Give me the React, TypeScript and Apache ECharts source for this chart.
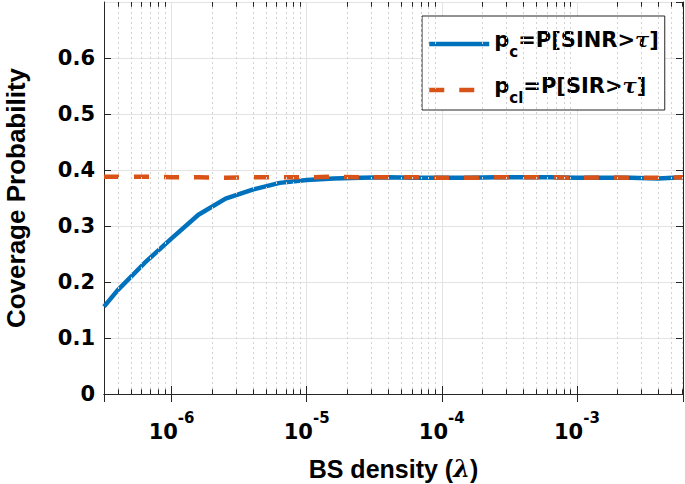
import React, { useEffect, useRef } from "react";
import * as echarts from "echarts";

const lambda = [3.16e-7, 3.98e-7, 6.31e-7, 1e-6, 1.58e-6, 2.51e-6, 3.98e-6, 6.31e-6, 1e-5, 1.58e-5, 2.51e-5, 3.98e-5, 6.31e-5, 1e-4, 1.58e-4, 2.51e-4, 3.98e-4, 6.31e-4, 1e-3, 1.58e-3, 2.51e-3, 3.98e-3, 6.1e-3];
const pc = [0.156, 0.185, 0.234, 0.278, 0.32, 0.349, 0.365, 0.377, 0.382, 0.385, 0.386, 0.387, 0.386, 0.386, 0.386, 0.387, 0.387, 0.387, 0.386, 0.386, 0.386, 0.385, 0.387];
const pcl = [0.388, 0.388, 0.388, 0.387, 0.387, 0.386, 0.387, 0.387, 0.387, 0.388, 0.387, 0.387, 0.387, 0.386, 0.386, 0.387, 0.387, 0.387, 0.386, 0.387, 0.386, 0.386, 0.387];
const decades = [1e-7, 1e-6, 1e-5, 1e-4, 1e-3];
const minorMultipliers = [2, 3, 4, 5, 6, 7, 8, 9];
const X_MIN = 3.16e-7;
const X_MAX = 6.1e-3;
const Y_MIN = 0;
const Y_MAX = 0.7;
const FONT = "DejaVu Sans";
const TITLE_FONT = "Liberation Sans";
const AXIS_COLOR = "#262626";

export default function App() {
  const ref = useRef<HTMLDivElement>(null);
  useEffect(() => {
    if (!ref.current) return;
    const chart = echarts.init(ref.current, undefined, { renderer: "svg" });
    const minorVals: number[] = [];
    decades.forEach((d) => minorMultipliers.forEach((m) => {
      const v = d * m;
      if (v > X_MIN && v < X_MAX) minorVals.push(v);
    }));
    const tickLen = 0.0085;
    const minorMarks: any[] = [];
    minorVals.forEach((v) => {
      minorMarks.push([{ coord: [v, Y_MIN] }, { coord: [v, Y_MIN + tickLen] }]);
      minorMarks.push([{ coord: [v, Y_MAX] }, { coord: [v, Y_MAX - tickLen] }]);
    });
    const minorGrid: any[] = minorVals.map((v) => [{ coord: [v, Y_MIN] }, { coord: [v, Y_MAX] }]);
    const xLabelFmt = (v: number) => {
      const e = Math.log10(v);
      if (Math.abs(e - Math.round(e)) > 1e-6) return "";
      return `{b|10}{s|${Math.round(e)}}`;
    };
    const xRich = {
      b: { fontFamily: FONT, fontWeight: "bold", fontSize: 21, lineHeight: 32, verticalAlign: "bottom", color: "#000" },
      s: { fontFamily: FONT, fontWeight: "bold", fontSize: 15, verticalAlign: "top", color: "#000" },
    };
    const legendNames: Record<string, string> = {
      pc: "{m|p}{sub|c}{m|=P[SINR>}{it|τ}{m|]}",
      pcl: "{m|p}{sub|cl}{m|=P[SIR>}{it|τ}{m|]}",
    };
    const option: any = {
      animation: false,
      backgroundColor: "#fff",
      grid: { left: 104, right: 2, top: 2, bottom: 90, containLabel: false, outerBoundsMode: "none" },
      xAxis: [
        {
          type: "log",
          min: X_MIN,
          max: X_MAX,
          position: "bottom",
          name: "BS density ({i|λ})",
          nameLocation: "middle",
          nameGap: 62,
          nameTextStyle: {
            fontFamily: TITLE_FONT, fontWeight: "bold", fontSize: 25, color: "#000",
            rich: { i: { fontFamily: "DejaVu Serif", fontWeight: "bold", fontStyle: "italic", fontSize: 24, color: "#000" } },
          },
          axisLine: { show: true, lineStyle: { color: AXIS_COLOR, width: 1 } },
          axisTick: { show: true, inside: true, length: 8, lineStyle: { color: AXIS_COLOR } },
          axisLabel: { formatter: xLabelFmt, rich: xRich, margin: 16, showMinLabel: false, showMaxLabel: false },
          splitLine: { show: true, lineStyle: { color: "#e3e3e3", width: 1 } },
        },
        {
          type: "log",
          min: X_MIN,
          max: X_MAX,
          position: "top",
          axisLine: { show: true, lineStyle: { color: AXIS_COLOR, width: 1 } },
          axisTick: { show: true, inside: true, length: 8, lineStyle: { color: AXIS_COLOR } },
          axisLabel: { show: false },
          splitLine: { show: false },
        },
      ],
      yAxis: [
        {
          type: "value",
          min: Y_MIN,
          max: Y_MAX,
          interval: 0.1,
          position: "left",
          name: "Coverage Probability",
          nameLocation: "middle",
          nameGap: 75,
          nameTextStyle: { fontFamily: TITLE_FONT, fontWeight: "bold", fontSize: 26, color: "#000" },
          axisLine: { show: true, lineStyle: { color: AXIS_COLOR, width: 1 } },
          axisTick: { show: true, inside: true, length: 7, lineStyle: { color: AXIS_COLOR } },
          axisLabel: { fontFamily: FONT, fontWeight: "bold", fontSize: 21, color: "#000", margin: 9, showMaxLabel: false },
          splitLine: { show: true, lineStyle: { color: "#e3e3e3", width: 1 } },
        },
        {
          type: "value",
          min: Y_MIN,
          max: Y_MAX,
          interval: 0.1,
          position: "right",
          axisLine: { show: true, lineStyle: { color: AXIS_COLOR, width: 1 } },
          axisTick: { show: true, inside: true, length: 7, lineStyle: { color: AXIS_COLOR } },
          axisLabel: { show: false },
          splitLine: { show: false },
        },
      ],
      legend: {
        orient: "vertical",
        left: 422,
        top: 16,
        data: ["pc", "pcl"],
        itemWidth: 60,
        itemHeight: 14,
        itemGap: 16,
        padding: [13, 6, 5, 5],
        backgroundColor: "#fff",
        borderColor: AXIS_COLOR,
        borderWidth: 1,
        borderRadius: 0,
        itemStyle: { opacity: 0 },
        lineStyle: { width: 4.5 },
        formatter: (name: string) => legendNames[name],
        textStyle: {
          rich: {
            m: { fontFamily: FONT, fontWeight: "bold", fontSize: 21, color: "#000", lineHeight: 30, verticalAlign: "top" },
            sub: { fontFamily: FONT, fontWeight: "bold", fontSize: 15, color: "#000", verticalAlign: "bottom" },
            it: { fontFamily: "DejaVu Serif", fontWeight: "bold", fontStyle: "italic", fontSize: 21, color: "#000", lineHeight: 30, verticalAlign: "top" },
          },
        },
      },
      series: [
        {
          name: "grid-helper",
          type: "line",
          data: [[lambda[0], pc[0]]],
          symbol: "none",
          lineStyle: { opacity: 0 },
          silent: true,
          z: 1,
          markLine: {
            silent: true,
            symbol: ["none", "none"],
            label: { show: false },
            emphasis: { disabled: true },
            lineStyle: { color: "#d2d2d2", type: [2, 3], width: 1 },
            data: minorGrid,
          },
        },
        {
          name: "tick-helper",
          type: "line",
          data: [[lambda[0], pc[0]]],
          symbol: "none",
          lineStyle: { opacity: 0 },
          silent: true,
          z: 5,
          markLine: {
            silent: true,
            symbol: ["none", "none"],
            label: { show: false },
            emphasis: { disabled: true },
            lineStyle: { color: AXIS_COLOR, type: "solid", width: 1 },
            data: minorMarks,
          },
        },
        {
          name: "pc",
          type: "line",
          data: lambda.map((x, i) => [x, pc[i]]),
          symbol: "none",
          showSymbol: false,
          lineStyle: { color: "#0072BD", width: 4.5 },
          itemStyle: { color: "#0072BD" },
          z: 3,
        },
        {
          name: "pcl",
          type: "line",
          data: lambda.map((x, i) => [x, pcl[i]]),
          symbol: "none",
          showSymbol: false,
          lineStyle: { color: "#D95319", width: 4.5, type: [15, 15] },
          itemStyle: { color: "#D95319" },
          z: 4,
        },
      ],
    };
    chart.setOption(option);
    return () => chart.dispose();
  }, []);
  return <div ref={ref} style={{ position: "fixed", left: 0, top: 0, width: 685, height: 484, background: "#fff" }} />;
}
